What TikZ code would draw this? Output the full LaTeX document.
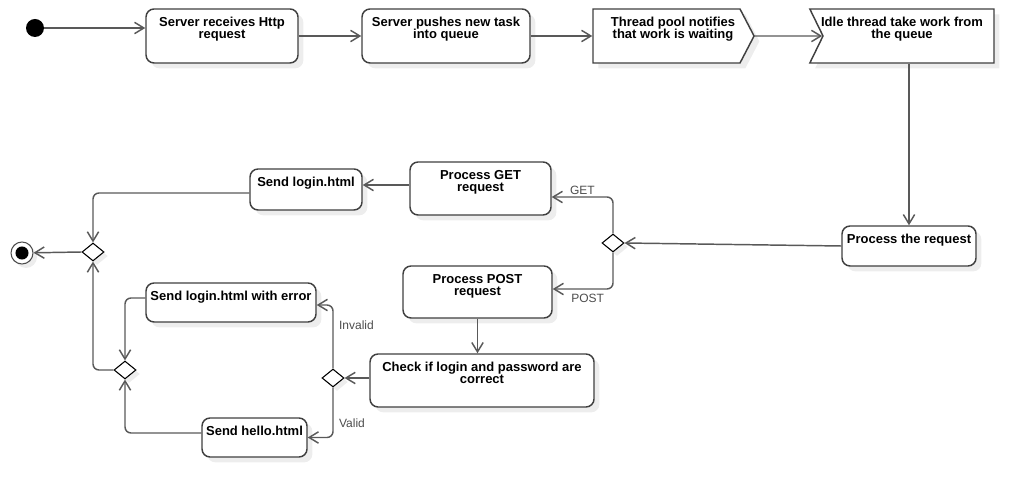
\documentclass[tikz,border=0pt]{standalone}
\usepackage{fontspec}
\setmainfont{Liberation Sans}
\usetikzlibrary{arrows.meta}
\usetikzlibrary{shapes.geometric,shapes.symbols}
\usetikzlibrary{shadows}
\usetikzlibrary{calc}

\newcommand{\acttxt}[3]{\parbox[c][#2][t]{#1}{\lineskiplimit=-5pt\centering\rule{0pt}{13.3pt}#3}}

\tikzset{
   boxbase/.style={draw=black!75, line width=1.1pt, fill=white, inner sep=0pt,
      font=\fontsize{9.75}{9}\selectfont\bfseries,
      drop shadow={shadow xshift=4pt, shadow yshift=-4pt, fill=black!7, opacity=1}},
   act/.style={boxbase, rounded corners=6pt},
   sendsig/.style={boxbase, signal, signal to=east, signal pointer angle=125},
   recvsig/.style={boxbase, signal, signal from=west, signal to=nowhere, signal pointer angle=128},
   branch/.style={diamond, draw=black, line width=0.8pt, fill=white, inner sep=0pt,
      minimum width=16.5pt, minimum height=13.5pt,
      drop shadow={shadow xshift=3pt, shadow yshift=-3pt, fill=black!7, opacity=1}},
   startdot/.style={circle, fill=black, inner sep=0pt, minimum size=13.5pt},
   enddot/.style={circle, draw=black!70, line width=0.8pt, fill=white, inner sep=0pt,
      minimum size=16.5pt,
      drop shadow={shadow xshift=3pt, shadow yshift=-3pt, fill=black!7, opacity=1},
      path picture={\fill[black] (path picture bounding box.center) circle (4.9pt);}},
   flow/.style={draw=black!65, line width=1.1pt, rounded corners=4.5pt,
      -{Straight Barb[length=7pt, width=8.5pt]}},
   guard/.style={font=\fontsize{9}{10}\selectfont, text=black!70, inner sep=1pt}
}

\begin{document}
\begin{tikzpicture}[x=0.75pt, y=-0.75pt]
   \useasboundingbox (0,0) rectangle (1034,498);

   \node[startdot] (start) at (35,28) {};
   \node[act] (recv) at (222,36) {\acttxt{114pt}{40.5pt}{Server receives Http\\request}};
   \node[act] (push) at (446,36) {\acttxt{126pt}{40.5pt}{Server pushes new task\\into queue}};
   \node[sendsig] (notify) at (666.5,36) {\acttxt{110.25pt}{40.5pt}{\hspace*{9.75pt}Thread pool notifies\\\hspace*{9.75pt}that work is waiting}};
   \node[recvsig] (take) at (908.5,36) {\acttxt{128.25pt}{40.5pt}{\hspace*{-9.75pt}Idle thread take work from\\\hspace*{-9.75pt}the queue}};

   \node[act] (proc) at (909,246) {\acttxt{100.5pt}{30pt}{Process the request}};
   \node[branch] (method) at (613,243) {};
   \node[act] (get) at (480.5,188.5) {\acttxt{105.75pt}{39.75pt}{Process GET\\request}};
   \node[act] (post) at (477.5,292) {\acttxt{111.75pt}{39pt}{Process POST\\request}};
   \node[act] (login) at (306,189.5) {\acttxt{84pt}{30.75pt}{Send login.html}};
   \node[act] (check) at (482,380.5) {\acttxt{168pt}{39.75pt}{Check if login and password are\\correct}};
   \node[branch] (valid) at (333,378) {};
   \node[act] (err) at (231,302.5) {\acttxt{127.5pt}{29.25pt}{Send login.html with error}};
   \node[act] (hello) at (254.5,437.5) {\acttxt{78.75pt}{29.25pt}{Send hello.html}};
   \node[branch] (merge) at (125,370) {};
   \node[branch] (join) at (93,252) {};
   \node[enddot] (end) at (22,253) {};

   \draw[flow] (start) -- (start -| recv.west);
   \draw[flow] (recv.east) -- (push.west);
   \draw[flow] (push.east) -- (notify.west);
   \draw[flow] (notify.east) -- (take);
   \draw[flow] (take.south -| proc.north) -- (proc.north);
   \draw[flow] (proc.west) -- (method.east);
   \draw[flow] (method.north) |- ($(get.east)+(0,8.5)$) node[guard, pos=0.75, above] {GET};
   \draw[flow] (method.south) |- ($(post.east)+(0,-3)$) node[guard, pos=0.71, below=2pt] {POST};
   \draw[flow] ($(get.west)+(0,-3.5)$) -- ($(login.east)+(0,-4.5)$);
   \draw[flow] ($(login.west)+(0,3.5)$) -| (join.north);
   \draw[flow] (join.west) -- (end);
   \draw[flow] (post.south) -- (post.south |- check.north);
   \draw[flow] (check.west |- valid.east) -- (valid.east);
   \draw[flow] (valid.north) |- ($(err.east)+(0,2.5)$) node[guard, pos=0.34, right=3pt] {Invalid};
   \draw[flow] (valid.south) |- (hello.east) node[guard, pos=0.36, right=3pt] {Valid};
   \draw[flow] ($(err.west)+(0,-4.5)$) -| (merge.north);
   \draw[flow] ($(hello.west)+(0,-4.5)$) -| (merge.south);
   \draw[flow] (merge.west) -| (join.south);
\end{tikzpicture}
\end{document}
